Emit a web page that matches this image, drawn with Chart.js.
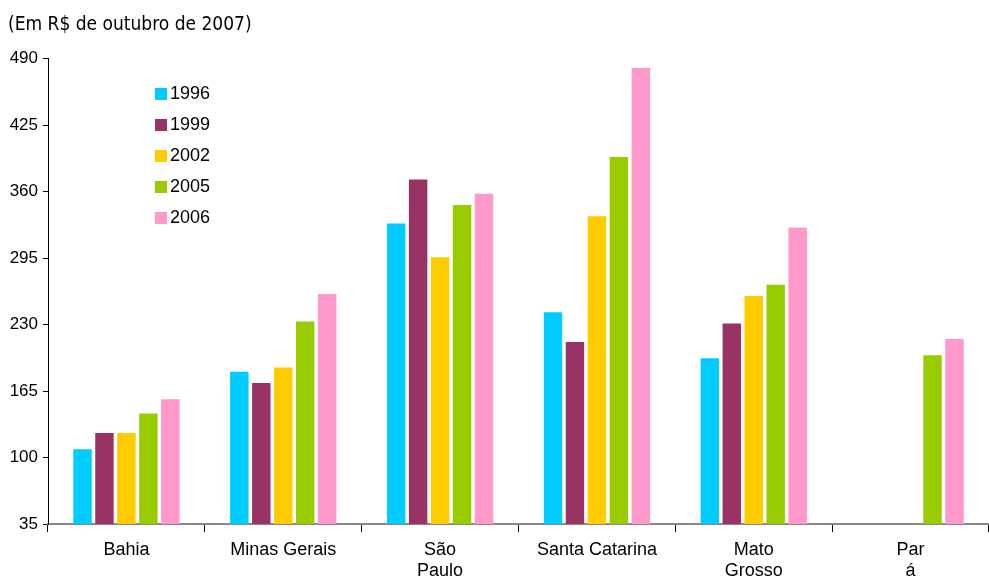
<!DOCTYPE html>
<html>
<head>
<meta charset="utf-8">
<script src="https://cdn.jsdelivr.net/npm/chart.js@4"></script>
<style>
  body { margin: 0; background: #fff; }
  #wrap { position: relative; width: 989px; height: 580px; }
  #legend { position: absolute; left: 155px; top: 78px; font: 18px "Liberation Sans", Arial, sans-serif; color: #000; }
  #legend div { height: 31px; display: flex; align-items: center; }
  #legend span.box { display: inline-block; width: 12px; height: 12px; margin-right: 3px; }
</style>
</head>
<body>
<div id="wrap">
  <canvas id="myChart" width="989" height="580"></canvas>
  <div id="legend"></div>
</div>
<script>
// categories (states) and yearly values, R$ of october 2007
const states = ['Bahia', 'Minas Gerais', ['São', 'Paulo'], 'Santa Catarina', ['Mato', 'Grosso'], ['Par', 'á']];
const years = ['1996', '1999', '2002', '2005', '2006'];
const v1996 = [108, 184, 329, 242, 197, null];
const v1999 = [124, 173, 372, 213, 231, null];
const v2002 = [124, 188, 296, 336, 258, null];
const v2005 = [143, 233, 347, 394, 269, 200];
const v2006 = [157, 260, 358, 481, 325, 216];
const yTicks = [35, 100, 165, 230, 295, 360, 425, 490];

const colors = ['#00CCFF', '#993366', '#FFCC00', '#99CC00', '#FF99CC'];
const series = [v1996, v1999, v2002, v2005, v2006];

const ctx = document.getElementById('myChart');
const font = { family: 'Arial, "Liberation Sans", sans-serif', size: 18, lineHeight: 1.2 };

new Chart(ctx, {
    type: 'bar',
    data: {
        labels: states,
        datasets: series.map((d, i) => ({
            label: years[i],
            data: d,
            backgroundColor: colors[i],
            barPercentage: 0.84,
            categoryPercentage: 0.7
        }))
    },
    options: {
        responsive: false,
        animation: false,
        layout: { padding: { left: 8, right: 0, bottom: 0 } },
        plugins: {
            legend: { display: false },
            tooltip: { enabled: false },
            title: {
                display: true,
                text: '(Em R$ de outubro de 2007)',
                align: 'start',
                color: '#000',
                font: { family: '"Liberation Sans Narrow", "DejaVu Sans Condensed", sans-serif', size: 19, weight: 'normal' },
                padding: { top: 14, bottom: 22 }
            }
        },
        scales: {
            x: {
                afterFit: scale => { scale.height = 56; },
                grid: { display: true, offset: true, drawOnChartArea: false, drawTicks: true, tickLength: 8, color: '#000' },
                border: { color: '#888', width: 2 },
                ticks: { color: '#000', font: font, maxRotation: 0, autoSkip: false, padding: 7 }
            },
            y: {
                min: 35,
                max: 490,
                afterFit: scale => { scale.width = 40; },
                afterBuildTicks: axis => { axis.ticks = yTicks.map(v => ({ value: v })); },
                grid: { display: true, drawOnChartArea: false, tickLength: 5, color: '#000' },
                border: { color: '#000', width: 1 },
                ticks: { color: '#000', font: { family: font.family, size: 17 }, padding: 5 }
            }
        }
    }
});

// legend drawn as html over the chart area
const legend = document.getElementById('legend');
years.forEach((y, i) => {
    const row = document.createElement('div');
    row.innerHTML = '<span class="box" style="background:' + colors[i] + '"></span>' + y;
    legend.appendChild(row);
});
</script>
</body>
</html>
